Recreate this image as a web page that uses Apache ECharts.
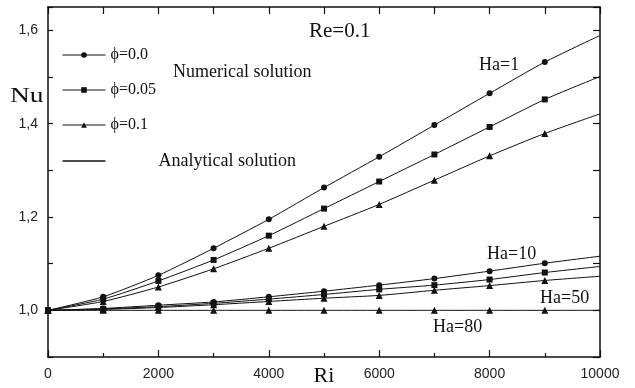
<!DOCTYPE html>
<html>
<head>
<meta charset="utf-8">
<script src="https://cdn.jsdelivr.net/npm/echarts@6/dist/echarts.min.js"></script>
<style>html,body{margin:0;padding:0;background:#fff}#c{width:635px;height:388px}</style>
</head>
<body>
<div id="c"></div>
<script>
const ri = [0, 1000, 2000, 3000, 4000, 5000, 6000, 7000, 8000, 9000, 10000];
const ha1Phi0   = [1.0, 1.029, 1.075, 1.133, 1.195, 1.263, 1.329, 1.397, 1.465, 1.532, 1.589];
const ha1Phi005 = [1.0, 1.024, 1.063, 1.108, 1.160, 1.218, 1.276, 1.334, 1.393, 1.452, 1.501];
const ha1Phi01  = [1.0, 1.019, 1.050, 1.089, 1.133, 1.180, 1.227, 1.279, 1.331, 1.379, 1.421];
const ha10Phi0   = [1.0, 1.004, 1.011, 1.018, 1.029, 1.041, 1.054, 1.068, 1.084, 1.101, 1.116];
const ha10Phi005 = [1.0, 1.003, 1.008, 1.015, 1.024, 1.034, 1.045, 1.054, 1.066, 1.081, 1.094];
const ha10Phi01  = [1.0, 1.002, 1.006, 1.012, 1.019, 1.026, 1.032, 1.043, 1.053, 1.064, 1.073];
const ha80Phi01  = [1.0, 1.0, 1.0, 1.0, 1.0, 1.0, 1.0, 1.0, 1.0, 1.0, 1.0];
const legendNames = ['ϕ=0.0', 'ϕ=0.05', 'ϕ=0.1', 'Analytical solution'];
const yTickLabels = ['1,0', '1,2', '1,4', '1,6'];

const INK = '#111';
function mk(name, vals, symbol, size) {
  return {
    name: name, type: 'line', xAxisIndex: 0, yAxisIndex: 0,
    smooth: 0.2, symbol: symbol, symbolSize: size, showSymbol: true,
    lineStyle: { color: INK, width: 1 }, itemStyle: { color: INK },
    emphasis: { disabled: true }, animation: false,
    data: ri.map((x, i) => i === ri.length - 1 ? { value: [x, vals[i]], symbol: 'none' } : [x, vals[i]])
  };
}
const series = [
  mk(legendNames[0], ha1Phi0, 'circle', 6),
  mk(legendNames[1], ha1Phi005, 'rect', 6),
  mk(legendNames[2], ha1Phi01, 'triangle', 7),
  mk(legendNames[0], ha10Phi0, 'circle', 6),
  mk(legendNames[1], ha10Phi005, 'rect', 6),
  mk(legendNames[2], ha10Phi01, 'triangle', 7),
  mk(legendNames[2], ha80Phi01, 'triangle', 7),
  { name: legendNames[3], type: 'line', data: [], symbol: 'none', lineStyle: { color: INK, width: 1 }, itemStyle: { color: INK } }
];

const serif = 'Liberation Serif, Times New Roman, serif';
function txt(t, x, y, size, sx) {
  return { type: 'text', x: x, y: y, scaleX: sx || 1, silent: true,
    style: { text: t, font: size + 'px ' + serif, fill: INK, verticalAlign: 'middle', align: 'left' } };
}

const chart = echarts.init(document.getElementById('c'), null, { renderer: 'canvas' });
chart.setOption({
  animation: false,
  backgroundColor: '#fff',
  grid: { left: 48, right: 35, top: 7, bottom: 31, containLabel: false, outerBoundsMode: 'none' },
  legend: {
    left: 57, top: 42, orient: 'vertical', itemWidth: 43, itemHeight: 7, itemGap: 19,
    data: [
      { name: legendNames[0] }, { name: legendNames[1] }, { name: legendNames[2] },
      { name: legendNames[3], icon: 'path://M0,0H43V1.4H0Z' }
    ],
    lineStyle: { width: 1 },
    textStyle: { fontFamily: serif, fontSize: 16, color: INK,
      rich: { a: { fontFamily: serif, fontSize: 18, color: INK, padding: [0, 0, 0, 48] } } },
    formatter: function (n) { return n === legendNames[3] ? '{a|' + n + '}' : n; },
    selectedMode: false, inactiveColor: INK
  },
  xAxis: [
    { type: 'value', min: 0, max: 10000, interval: 2000, position: 'bottom',
      axisLine: { show: true, onZero: false, lineStyle: { color: INK, width: 1.5 } },
      axisTick: { show: true, inside: true, length: 7, lineStyle: { color: INK, width: 1.2 } },
      minorTick: { show: true, splitNumber: 2, length: 4, lineStyle: { color: INK, width: 1.2 } },
      splitLine: { show: false },
      axisLabel: { color: '#222', fontFamily: 'Liberation Sans, Arial, sans-serif', fontSize: 14, margin: 10,
        formatter: function (v) { return String(v); } },
      name: 'Ri', nameLocation: 'middle', nameGap: 8, nameMoveOverlap: false,
      nameTextStyle: { fontFamily: serif, fontSize: 22, color: INK } },
    { type: 'value', min: 0, max: 10000, interval: 1000, position: 'top',
      axisLine: { show: true, onZero: false, lineStyle: { color: INK, width: 1.5 } },
      axisTick: { show: true, inside: true, length: 7, lineStyle: { color: INK, width: 1.2 } },
      splitLine: { show: false }, axisLabel: { show: false } }
  ],
  yAxis: [
    { type: 'value', min: 0.9, max: 1.65, interval: 0.1, position: 'left',
      axisLine: { show: true, onZero: false, lineStyle: { color: INK, width: 1.5 } },
      axisTick: { show: true, inside: true, length: 5, lineStyle: { color: INK, width: 1.2 } },
      splitLine: { show: false },
      axisLabel: { color: '#222', fontFamily: 'Liberation Sans, Arial, sans-serif', fontSize: 14, margin: 10,
        showMinLabel: true, showMaxLabel: true,
        formatter: function (v) {
          const k = Math.round(v * 10);
          if (Math.abs(v * 10 - k) > 1e-6 || k % 2 !== 0) return '';
          return yTickLabels[(k - 10) / 2] || '';
        } } },
    { type: 'value', min: 0.9, max: 1.65, interval: 0.1, position: 'right',
      axisLine: { show: true, onZero: false, lineStyle: { color: INK, width: 1.5 } },
      axisTick: { show: true, inside: true, length: 7, lineStyle: { color: INK, width: 1.2 } },
      splitLine: { show: false }, axisLabel: { show: false } }
  ],
  graphic: [
    txt('Nu', 10, 96, 22, 1.25),
    txt('Re=0.1', 309, 32, 20, 1.05),
    txt('Numerical solution', 173, 72, 18),
    txt('Ha=1', 479, 65, 18),
    txt('Ha=10', 487, 254, 18),
    txt('Ha=50', 540, 298, 18),
    txt('Ha=80', 433, 327, 18)
  ],
  series: series
});
</script>
</body>
</html>
